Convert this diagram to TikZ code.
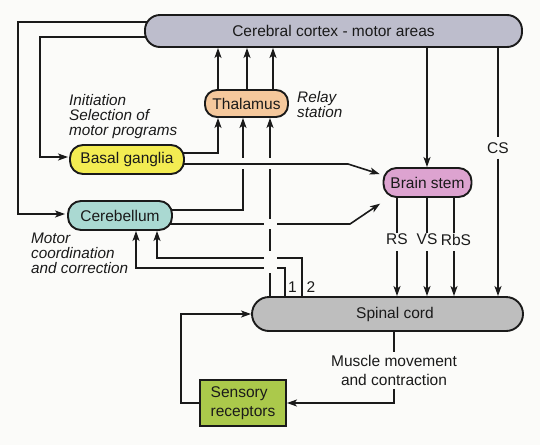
\documentclass[tikz,border=0pt]{standalone}
\usepackage{fontspec}
\setmainfont{Liberation Sans}
\usetikzlibrary{arrows.meta,backgrounds}
\definecolor{bgc}{HTML}{FBFBF9}
\definecolor{cortexc}{HTML}{BDBDCC}
\definecolor{thalc}{HTML}{F5C89C}
\definecolor{basalc}{HTML}{F3EC52}
\definecolor{cerebc}{HTML}{AAD9D2}
\definecolor{bstemc}{HTML}{DDA3D0}
\definecolor{spinc}{HTML}{BEBEBE}
\definecolor{sensc}{HTML}{ABC94B}
\definecolor{inkc}{HTML}{1A1A1A}
\begin{document}
\begin{tikzpicture}[x=1pt,y=-1pt,
  box/.style={draw=inkc, line width=1.9pt, rounded corners=13pt, inner sep=0pt, text=inkc, font=\fontsize{15.5}{15.5}\selectfont},
  lbl/.style={inner sep=0pt, text=inkc, font=\fontsize{15.5}{15.5}\selectfont},
  ital/.style={inner sep=0pt, text=inkc, font=\fontsize{15.3}{15}\selectfont\itshape, align=left},
  conn/.style={draw=inkc, line width=1.6pt},
  arr/.style={conn, -{Stealth[length=10pt,width=7pt,inset=2.5pt]}},
  gapc/.style={fill=bgc},
]
\useasboundingbox (0,0) rectangle (540,445);
% nodes
\node[box, fill=cortexc, minimum width=377pt, minimum height=32pt, rounded corners=15pt] (cortex) at (333.5,31) {Cerebral cortex - motor areas};
\node[box, fill=thalc, minimum width=83pt, minimum height=27pt, rounded corners=12pt] (thal) at (246.5,103.5) {Thalamus};
\node[box, fill=basalc, minimum width=114pt, minimum height=29pt] (basal) at (127,159.5) {Basal ganglia};
\node[box, fill=cerebc, minimum width=104pt, minimum height=29pt] (cereb) at (120,215.5) {Cerebellum};
\node[box, fill=bstemc, minimum width=88pt, minimum height=29pt] (bstem) at (427.5,182.5) {Brain stem};
\node[box, fill=spinc, minimum width=271pt, minimum height=34pt, rounded corners=17pt] (spinal) at (387.5,314) {};
\node[lbl] (spinaltext) at (395,314) {Spinal cord};
\node[box, fill=sensc, rounded corners=0pt, minimum width=86pt, minimum height=46pt, align=left, font=\fontsize{15.5}{19}\selectfont] (sens) at (243,403) {Sensory\\receptors};
% labels
\node[ital, anchor=west] (initlbl) at (69,117) {Initiation\\Selection of\\motor programs};
\node[ital, anchor=west] (relaylbl) at (297,105) {Relay\\station};
\node[ital, anchor=west] (motorlbl) at (31,253) {Motor\\coordination\\and correction};
\node[lbl] (rs) at (397,239.5) {RS};
\node[lbl] (vs) at (427,239.5) {VS};
\node[lbl] (rbs) at (456,239.5) {RbS};
\node[lbl, inner ysep=5pt] (cs) at (498,148) {CS};
\node[lbl] (one) at (292.5,287) {1};
\node[lbl] (two) at (311,287) {2};
\node[lbl, inner ysep=3pt, align=center, font=\fontsize{15.5}{19}\selectfont] (muscle) at (394,370.5) {Muscle movement\\and contraction};
% connectors
\begin{scope}[on background layer]
\fill[bgc] (0,0) rectangle (540,445);
\foreach \xx in {218,247,273} \draw[arr] (thal.center -| \xx,0) -- (cortex.south -| \xx,0);
\draw[arr] (basal.center |- 0,153) -| (thal.south -| 218,0);
\draw[arr] (cereb.center |- 0,210) -| (thal.south -| 243,0);
\draw[arr] (spinal.center -| 270,0) -- (thal.south -| 270,0);
\draw[arr, shorten >=3pt] (cereb.center |- 0,224) -- (350,224) -- (bstem.west |- 0,202);
\draw[arr] (spinal.center -| 285,0) -- (285,268) -| (cereb.south -| 136,0);
\draw[arr] (spinal.center -| 302,0) -- (302,258) -| (cereb.south -| 157,0);
\draw[arr] (cortex.center -| 427,0) -- (bstem.north -| 427,0);
\draw[conn] (cortex.center -| 498,0) -- (cs.north);
\draw[arr] (cs.south) -- (spinal.north -| 498,0);
\draw[conn, shorten >=1pt] (bstem.center -| 397,0) -- (rs.north -| 397,0);
\draw[conn, shorten >=1pt] (bstem.center -| 427,0) -- (vs.north -| 427,0);
\draw[conn, shorten >=1pt] (bstem.center -| 454,0) -- (rbs.north -| 454,0);
\draw[arr, shorten <=6pt] (rs.south -| 397,0) -- (spinal.north -| 397,0);
\draw[arr, shorten <=6pt] (vs.south -| 427,0) -- (spinal.north -| 427,0);
\draw[arr, shorten <=6pt] (rbs.south -| 454,0) -- (spinal.north -| 454,0);
\draw[conn] (spinal.center -| 394,0) -- (muscle.north);
\draw[arr] (muscle.south) |- (sens.east);
\draw[arr] (sens.center) -- (sens.center -| 181,0) |- (spinal.west);
\draw[arr, shorten >=2pt] (cortex.center |- 0,22) -- (18,22) |- (cereb.west |- 0,214);
\draw[arr, shorten >=1pt] (cortex.center |- 0,37) -- (40,37) |- (basal.west |- 0,157);
% crossings
\fill[gapc] (263.5,219) rectangle (276.5,229);
\fill[gapc] (263.5,251) rectangle (276.5,273);
\fill[gapc] (239,158) rectangle (247,169);
\fill[gapc] (266,158) rectangle (274,169);
\draw[arr, shorten >=3pt] (basal.center |- 0,164) -- (348,164) -- (bstem.west |- 0,175);
\end{scope}
\end{tikzpicture}
\end{document}
